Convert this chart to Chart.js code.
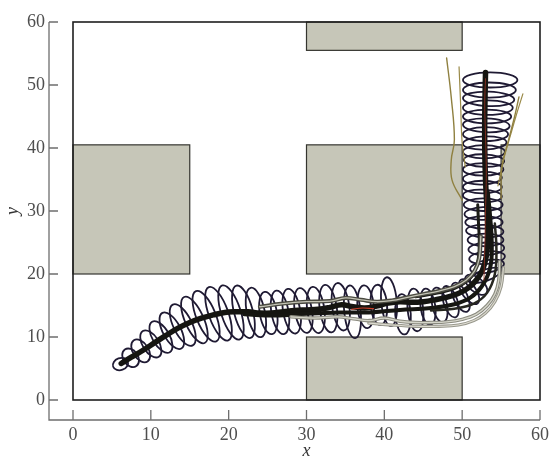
<!DOCTYPE html>
<html>
<head>
  <title>Trajectory with covariance ellipses</title>
  <script src="https://cdn.jsdelivr.net/npm/chart.js"></script>
  <style>
    body { margin: 0; background: #fff; }
    canvas { display: block; }
  </style>
</head>
<body>
  <canvas id="trackChart" width="552" height="458"></canvas>

  <script>
    // obstacles (gray blocks), data units
    const obsX0 = [0, 30, 30, 55, 30];
    const obsX1 = [15, 50, 50, 60, 50];
    const obsY0 = [20, 55.5, 20, 20, 0];
    const obsY1 = [40.5, 60, 40.5, 40.5, 10];

    // main estimated path
    const mainX = [6.2, 7.5, 9, 10.5, 12, 13.5, 15, 16.5, 18, 19.5, 21, 22.5, 24, 25.5, 27, 28.5, 30, 31.5, 33, 34.5, 36, 37.5, 39, 40.5, 42, 43.5, 45, 46.5, 48, 49.5, 50.8, 51.8, 52.6, 53.1, 53.3, 53.2, 53.0, 52.9, 52.9, 53.0];
    const mainY = [5.8, 6.8, 7.9, 9.1, 10.3, 11.4, 12.3, 13.0, 13.5, 13.9, 14.0, 14.0, 13.8, 13.8, 14.0, 14.2, 14.3, 14.4, 14.7, 15.1, 14.8, 14.6, 14.9, 15.4, 15.6, 15.5, 15.6, 15.9, 16.3, 16.9, 17.8, 19.0, 20.6, 22.8, 26, 30, 35, 40, 45, 52];

    // other dark tracks
    const darkX = [22, 26, 30, 34, 38, 42, 46, 49, 51, 52.5, 53.6, 53.8, 53.6, 53.3];
    const darkY = [13.6, 13.4, 13.7, 13.9, 13.9, 14.3, 14.6, 15.2, 16.2, 18, 21, 25, 29, 33];
    const dark2X = [44, 47, 49.5, 51.2, 52.0, 52.2, 52.1, 52.0];
    const dark2Y = [16.4, 17.0, 18.0, 19.6, 22, 25, 28, 31];
    const dark3X = [46, 49, 51.5, 53.2, 54.2, 54.4, 54.2];
    const dark3Y = [14.2, 14.5, 15.3, 17, 20, 24, 28];

    // gray tracks
    const grayAX = [24, 27, 30, 33, 35, 37, 39, 41, 43, 45, 47, 49, 50.5, 51.6, 52.2, 52.4];
    const grayAY = [14.8, 15.3, 15.6, 15.7, 16.2, 15.9, 15.6, 15.8, 16.3, 16.8, 17.3, 18.0, 19.0, 20.5, 22.5, 26];
    const grayBX = [28, 31, 34, 36, 38, 40, 42, 44, 46, 48, 50, 51.8, 53.2, 54.2, 54.7, 54.8];
    const grayBY = [13.2, 13.0, 13.2, 12.9, 12.6, 13.0, 12.5, 12.3, 12.3, 12.4, 12.8, 13.6, 15.0, 16.8, 19.0, 22];
    const grayCX = [38, 41, 44, 47, 49.5, 51.5, 53, 54.2, 55, 55.3];
    const grayCY = [12.2, 11.9, 11.7, 11.7, 11.9, 12.6, 13.8, 15.6, 18, 21];

    // thin red tracks
    const redX = [52.8, 52.9, 53.0, 53.1, 53.0, 52.9, 53.0];
    const redY = [19, 24, 30, 36, 42, 47, 51];
    const redMidX = [35.8, 37.2, 38.6];
    const redMidY = [14.4, 14.6, 14.5];

    // olive tracks fanning out at the top
    const oliveAX = [50.0, 48.7, 48.6, 49.0, 48.6, 48.0];
    const oliveAY = [31.7, 34.9, 38.1, 41.3, 48, 54.3];
    const oliveBX = [50.4, 50.0, 49.8, 49.6];
    const oliveBY = [37, 40.8, 47, 52.9];
    const oliveCX = [55.0, 55.1, 55.9, 56.7, 57.3];
    const oliveCY = [32, 37, 41, 44.8, 48.1];
    const oliveDX = [54.6, 55.4, 56.2, 56.9, 57.8];
    const oliveDY = [34, 38.5, 42, 45, 48.6];

    // uncertainty ellipses: centre, semi-axes (x units, y units), rotation (deg)
    const ellX = [6.1, 7.4, 8.7, 10.0, 11.3, 12.7, 14.1, 15.6, 17.1, 18.7, 20.3, 21.9, 23.5, 25.1, 26.6, 28.1, 29.6, 31.2, 32.8, 34.4, 35.9, 37.6, 39.3, 40.6, 42.4, 44.0, 45.6, 47.1, 48.5, 49.8, 50.9, 51.8,
                  53.0, 53.2, 53.2, 53.1, 53.0, 52.9, 52.8, 52.7, 52.7, 52.6, 52.6, 52.6, 52.7, 52.8, 52.8, 52.9, 53.0, 53.1, 53.2, 53.3, 53.4, 53.5, 53.6];
    const ellY = [5.7, 6.7, 7.8, 8.9, 10.0, 11.0, 11.9, 12.7, 13.3, 13.7, 13.9, 14.0, 13.9, 13.8, 13.9, 14.1, 14.2, 14.3, 14.5, 14.8, 14.0, 14.8, 15.1, 15.6, 13.6, 14.3, 14.8, 15.1, 15.6, 16.3, 17.2, 18.3,
                  19.8, 21.2, 22.6, 24.0, 25.4, 26.8, 28.2, 29.6, 31.0, 32.4, 33.8, 35.2, 36.6, 38.0, 39.4, 40.8, 42.2, 43.6, 45.0, 46.4, 47.8, 49.2, 50.8];
    const ellRx = [1.0, 0.95, 1.0, 1.05, 1.1, 1.15, 1.2, 1.2, 1.25, 1.25, 1.25, 1.2, 1.15, 1.1, 1.1, 1.1, 1.1, 1.1, 1.1, 1.1, 1.05, 1.05, 1.05, 1.0, 1.0, 1.0, 0.95, 0.95, 0.9, 0.9, 0.9, 0.9,
                   2.1, 2.2, 2.3, 2.3, 2.3, 2.4, 2.4, 2.4, 2.5, 2.5, 2.5, 2.5, 2.6, 2.6, 2.7, 2.8, 2.9, 3.0, 3.1, 3.2, 3.3, 3.4, 3.5];
    const ellRy = [0.95, 1.6, 2.0, 2.4, 2.8, 3.2, 3.6, 4.0, 4.3, 4.5, 4.5, 4.3, 4.0, 3.4, 3.5, 3.6, 3.6, 3.7, 3.8, 3.8, 4.2, 3.4, 3.2, 3.9, 3.2, 3.4, 2.9, 2.8, 2.6, 2.5, 2.3, 2.1,
                   0.9, 1.0, 1.0, 1.0, 1.0, 1.0, 1.0, 1.0, 1.0, 1.0, 1.0, 1.0, 1.0, 1.0, 1.05, 1.05, 1.1, 1.1, 1.1, 1.15, 1.15, 1.2, 1.2];
    const ellRot = [-20, -35, -33, -32, -30, -28, -26, -24, -22, -20, -18, -15, -12, -10, -10, -10, -10, -8, -8, -8, -6, -5, -5, -5, -4, -6, -8, -12, -18, -25, -35, -50,
                    -20, -10, -5, -3, 0, 2, 0, -2, 0, 2, 0, -2, 0, 2, 0, -2, 0, 2, 0, 0, 2, 0, 0];

    const xTicks = [0, 10, 20, 30, 40, 50, 60];
    const yTicks = [0, 10, 20, 30, 40, 50, 60];

    function pts(xs, ys) {
      return xs.map((v, i) => ({ x: v, y: ys[i] }));
    }

    function track(xs, ys, color, width) {
      return {
        data: pts(xs, ys),
        showLine: true,
        borderColor: color,
        borderWidth: width,
        pointRadius: 0,
        tension: 0.4,
        borderCapStyle: 'round',
        borderJoinStyle: 'round'
      };
    }

    const serif = "'Liberation Serif', 'DejaVu Serif', serif";

    const extras = {
      id: 'extras',
      beforeDatasetsDraw(chart) {
        const { ctx, scales: { x, y } } = chart;
        ctx.save();
        for (let i = 0; i < obsX0.length; i++) {
          const l = x.getPixelForValue(obsX0[i]), r = x.getPixelForValue(obsX1[i]);
          const t = y.getPixelForValue(obsY1[i]), b = y.getPixelForValue(obsY0[i]);
          ctx.fillStyle = '#c6c6b8';
          ctx.fillRect(l, t, r - l, b - t);
          ctx.strokeStyle = '#35352f';
          ctx.lineWidth = 1.2;
          ctx.strokeRect(l, t, r - l, b - t);
        }
        ctx.strokeStyle = '#1f1a33';
        ctx.lineWidth = 1.8;
        for (let i = 0; i < ellX.length; i++) {
          const cx = x.getPixelForValue(ellX[i]), cy = y.getPixelForValue(ellY[i]);
          const rx = Math.abs(x.getPixelForValue(ellX[i] + ellRx[i]) - cx);
          const ry = Math.abs(y.getPixelForValue(ellY[i] + ellRy[i]) - cy);
          ctx.beginPath();
          ctx.ellipse(cx, cy, rx, ry, ellRot[i] * Math.PI / 180, 0, 2 * Math.PI);
          ctx.stroke();
        }
        ctx.restore();
      },
      afterDraw(chart) {
        const { ctx, chartArea: a, scales: { x, y } } = chart;
        ctx.save();
        // plot frame
        ctx.strokeStyle = '#1e1e1e';
        ctx.lineWidth = 1.6;
        ctx.strokeRect(a.left, a.top, a.right - a.left, a.bottom - a.top);
        // offset axes with inward ticks
        const axL = a.left - 24, axB = a.bottom + 20;
        ctx.strokeStyle = '#6e6e6e';
        ctx.lineWidth = 1.3;
        ctx.beginPath();
        ctx.moveTo(axL, y.getPixelForValue(60));
        ctx.lineTo(axL, axB);
        ctx.lineTo(x.getPixelForValue(60), axB);
        yTicks.forEach(v => {
          const py = y.getPixelForValue(v);
          ctx.moveTo(axL, py);
          ctx.lineTo(axL + 9, py);
        });
        xTicks.forEach(v => {
          const px = x.getPixelForValue(v);
          ctx.moveTo(px, axB);
          ctx.lineTo(px, axB - 10);
        });
        ctx.stroke();
        ctx.restore();
      }
    };

    new Chart(document.getElementById('trackChart'), {
      type: 'scatter',
      data: {
        datasets: [
          track(redX, redY, '#9a3324', 0.8),
          track(redMidX, redMidY, '#c8402a', 1.2),
          track(oliveAX, oliveAY, '#8f8040', 1.4),
          track(oliveBX, oliveBY, '#9a8a48', 1.2),
          track(oliveCX, oliveCY, '#8f8040', 1.4),
          track(oliveDX, oliveDY, '#9a8a48', 1.2),
          track(grayAX, grayAY, '#c4c4b6', 1.3),
          track(grayBX, grayBY, '#d6d6cb', 1.3),
          track(grayBX, grayBY, '#8a8a7e', 3.5),
          track(grayCX, grayCY, '#dedcd2', 1.1),
          track(grayCX, grayCY, '#98988c', 3.2),
          track(grayAX, grayAY, '#4a4a40', 4),
          track(dark2X, dark2Y, '#1c1c17', 3),
          track(dark3X, dark3Y, '#262620', 2.5),
          track(darkX, darkY, '#161612', 4),
          track(mainX, mainY, '#151511', 5.5)
        ]
      },
      options: {
        responsive: false,
        animation: false,
        layout: { padding: { top: 22, right: 12, left: 0, bottom: 0 } },
        plugins: {
          legend: { display: false },
          tooltip: { enabled: false }
        },
        scales: {
          x: {
            type: 'linear',
            min: 0,
            max: 60,
            afterFit(scale) {
              scale.height = 58;
              scale.paddingLeft = 0;
              scale.paddingRight = 0;
            },
            afterBuildTicks(scale) { scale.ticks = xTicks.map(v => ({ value: v })); },
            grid: { display: false, drawTicks: false },
            border: { display: false },
            ticks: { padding: 24, color: '#4e4e4e', font: { family: serif, size: 18 } },
            title: {
              display: true, text: 'x', color: '#333', padding: { top: 0, bottom: -4 },
              font: { family: serif, size: 18, style: 'italic' }
            }
          },
          y: {
            type: 'linear',
            min: 0,
            max: 60,
            afterFit(scale) {
              scale.width = 73;
              scale.paddingTop = 0;
              scale.paddingBottom = 0;
            },
            afterBuildTicks(scale) { scale.ticks = yTicks.map(v => ({ value: v })); },
            grid: { display: false, drawTicks: false },
            border: { display: false },
            ticks: { padding: 28, color: '#4e4e4e', font: { family: serif, size: 18 } },
            title: {
              display: true, text: 'y', color: '#333', padding: 2,
              font: { family: serif, size: 18, style: 'italic' }
            }
          }
        }
      },
      plugins: [extras]
    });
  </script>
</body>
</html>
